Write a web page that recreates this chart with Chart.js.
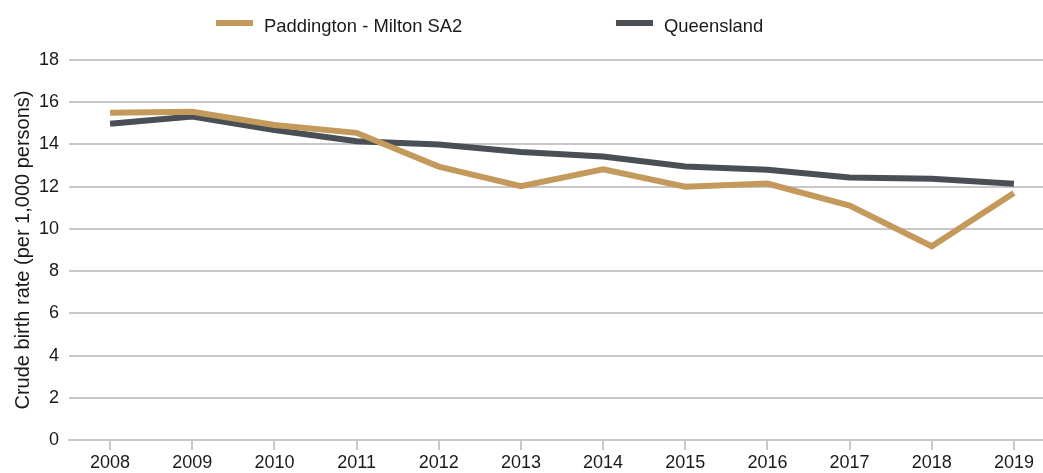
<!DOCTYPE html>
<html>
<head>
<meta charset="utf-8">
<script src="https://cdn.jsdelivr.net/npm/chart.js@4/dist/chart.umd.min.js"></script>
<style>
  html, body { margin: 0; padding: 0; background: #fff; overflow: hidden; }
  #wrap { position: relative; width: 1043px; height: 473px; overflow: hidden; }
  #legend { position: absolute; top: 14px; left: 0; width: 100%; height: 24px;
            font-family: "Liberation Sans", Arial, sans-serif; font-size: 18.4px; color: #1a1a1a; }
  .item { position: absolute; top: 0; height: 24px; line-height: 24px; white-space: nowrap; }
  .swatch { position: absolute; left: 0; top: 6px; width: 37px; height: 6px; }
  .txt { position: absolute; left: 48px; top: 0; }
</style>
</head>
<body>
<div id="wrap">
  <canvas id="myChart" width="1055" height="473"></canvas>
  <div id="legend"></div>
</div>
<script>
const years = ['2008','2009','2010','2011','2012','2013','2014','2015','2016','2017','2018','2019'];
const paddington = [15.5, 15.55, 14.92, 14.55, 12.95, 12.02, 12.82, 12.0, 12.15, 11.1, 9.18, 11.7];
const queensland = [14.98, 15.32, 14.68, 14.15, 14.0, 13.64, 13.43, 12.96, 12.8, 12.44, 12.38, 12.14];
const seriesNames = ['Paddington - Milton SA2', 'Queensland'];
const seriesColors = ['#c39a5c', '#4a4f56'];
const yTicks = [0, 2, 4, 6, 8, 10, 12, 14, 16, 18];

const fontFamily = '"Liberation Sans", Arial, sans-serif';
const gridColor = '#c8c8c8';

window.addEventListener('load', function() {
    const ctx = document.getElementById('myChart').getContext('2d');

    const chart = new Chart(ctx, {
        type: 'line',
        data: {
            labels: years,
            datasets: [paddington, queensland].map((values, i) => ({
                label: seriesNames[i],
                data: values,
                borderColor: seriesColors[i],
                backgroundColor: seriesColors[i],
                borderWidth: 6,
                pointRadius: 0,
                tension: 0,
                fill: false
            }))
        },
        options: {
            responsive: false,
            animation: false,
            layout: { padding: { top: 60, right: 0, bottom: 0, left: 0 } },
            plugins: {
                legend: { display: false },
                tooltip: { enabled: false }
            },
            scales: {
                x: {
                    offset: true,
                    grid: { drawOnChartArea: false, drawTicks: true, tickLength: 10, color: gridColor, lineWidth: 2 },
                    border: { display: true, color: gridColor, width: 2 },
                    ticks: { color: '#1a1a1a', padding: 2, maxRotation: 0, autoSkip: false, font: { family: fontFamily, size: 18 } },
                    afterFit: function(scale) { scale.height = 33; }
                },
                y: {
                    min: 0,
                    max: 18,
                    afterBuildTicks: function(scale) { scale.ticks = yTicks.map(v => ({ value: v })); },
                    grid: { drawTicks: false, color: gridColor, lineWidth: 2 },
                    border: { display: false },
                    ticks: { color: '#1a1a1a', padding: 10, font: { family: fontFamily, size: 18 } },
                    title: {
                        display: true,
                        text: 'Crude birth rate (per 1,000 persons)',
                        color: '#1a1a1a',
                        padding: { top: 11, bottom: 0 },
                        font: { family: fontFamily, size: 20 }
                    },
                    afterFit: function(scale) { scale.width = 69; }
                }
            }
        }
    });

    // legend as html, built from the datasets
    const legendLeft = [216, 616];
    const legend = document.getElementById('legend');
    chart.data.datasets.forEach((ds, i) => {
        const item = document.createElement('div');
        item.className = 'item';
        item.style.left = legendLeft[i] + 'px';
        const sw = document.createElement('span');
        sw.className = 'swatch';
        sw.style.background = ds.borderColor;
        const txt = document.createElement('span');
        txt.className = 'txt';
        txt.textContent = ds.label;
        item.appendChild(sw);
        item.appendChild(txt);
        legend.appendChild(item);
    });
});
</script>
</body>
</html>
